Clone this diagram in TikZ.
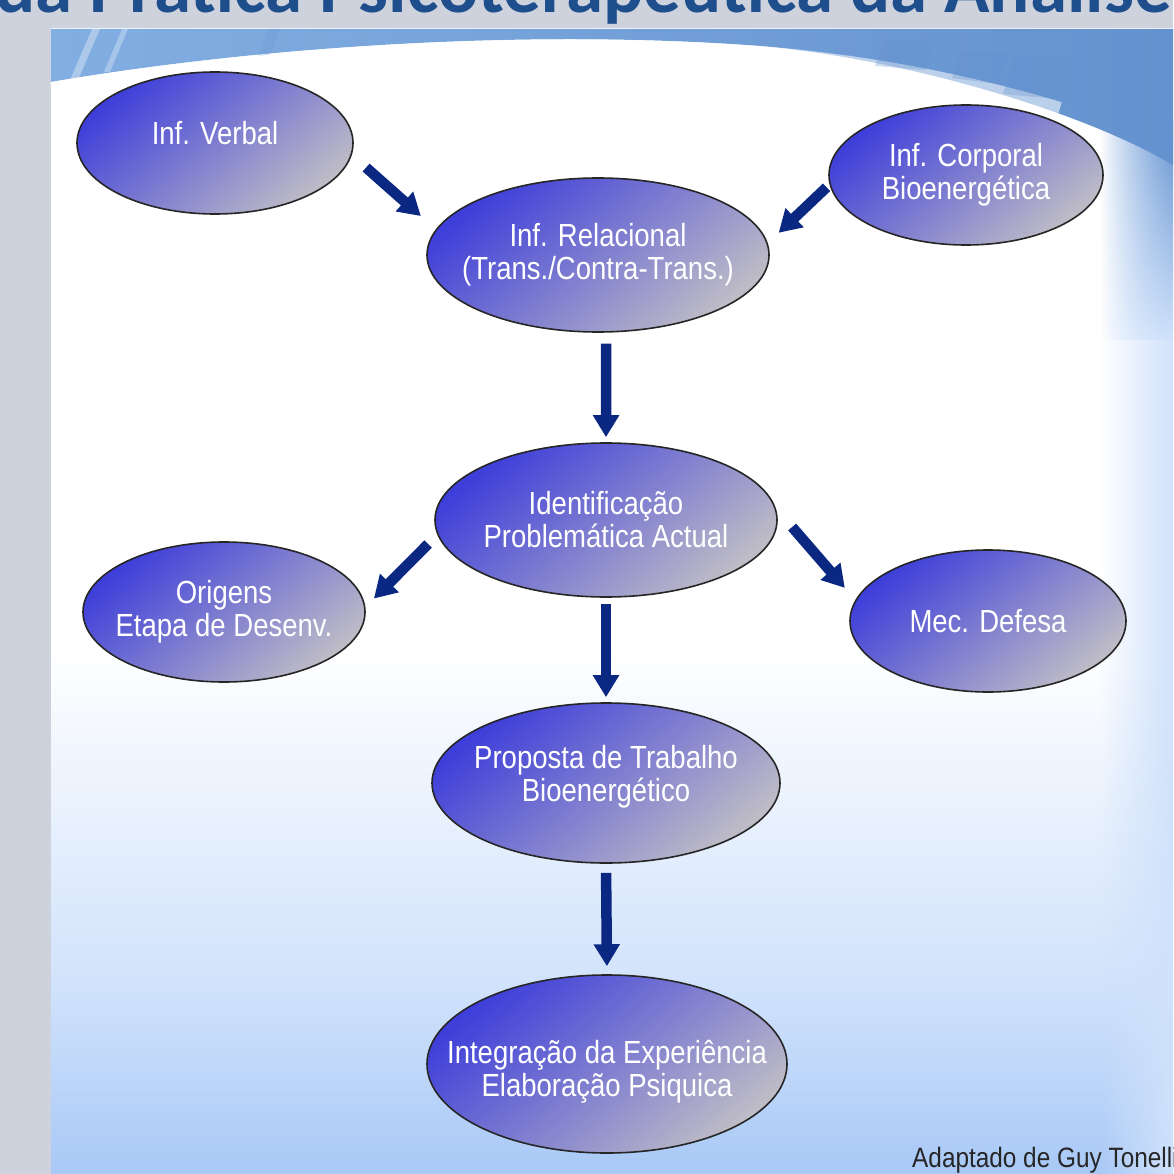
\documentclass[tikz,border=0pt]{standalone}
\usepackage{fontspec}
\usepackage{xcolor}
\usepackage{tikz}
\usetikzlibrary{calc,arrows.meta,shapes.geometric,fadings}

\newfontfamily\bubblefont[FakeStretch=0.86]{Liberation Sans}
\newfontfamily\notefont[FakeStretch=0.87]{Liberation Sans}
\newfontfamily\titlefont{Carlito}

\definecolor{sidegray}{RGB}{206,210,221}
\definecolor{titleblue}{RGB}{31,78,140}
\definecolor{panelbot}{RGB}{168,200,246}
\definecolor{panelmid}{RGB}{208,226,251}
\definecolor{bandleft}{RGB}{130,174,226}
\definecolor{bandmid}{RGB}{200,225,248}
\definecolor{bandright}{RGB}{100,146,206}
\definecolor{elltop}{RGB}{62,62,218}
\definecolor{ellbot}{RGB}{190,188,198}
\definecolor{navy}{RGB}{10,40,130}

\pgfdeclareverticalshading{panelshade}{100bp}{color(0bp)=(panelbot); color(25bp)=(panelbot); color(33bp)=(panelmid); color(48bp)=(white); color(100bp)=(white)}
\tikzfading[name=fadeeast, left color=transparent!100, right color=transparent!0]

\begin{document}
\begin{tikzpicture}[x=1pt,y=-1pt,
    bubble/.style={ellipse,draw=black!85,line width=1.6pt,top color=elltop,bottom color=ellbot,shading angle=40,inner sep=0pt},
    bubbletext/.style={text=white,align=center,font=\bubblefont\fontsize{32}{33}\selectfont},
    flow/.style={navy,line width=10.5pt,-{Triangle[width=25pt,length=22pt]}}]
  \useasboundingbox (0,0) rectangle (1173,1174);
  \clip (0,0) rectangle (1173,1174);

  % background
  \fill[sidegray] (0,0) rectangle (1173,1174);
  \shade[shading=panelshade] (51,29) rectangle (1173,1174);
  \fill[panelmid,path fading=fadeeast] (1100,120) rectangle (1173,1174);
  \shade[top color=bandright,bottom color=panelmid,path fading=fadeeast] (1100,120) rectangle (1173,340);
  \shade[left color=bandleft,middle color=bandmid,right color=bandright]
    (51,29) -- (51,82) .. controls (250,48) and (520,28) .. (760,46)
    .. controls (900,58) and (1080,110) .. (1173,165) -- (1173,29) -- cycle;
  \draw[white,line width=12pt,opacity=.55]
    (51,88) .. controls (250,54) and (520,34) .. (760,52)
    .. controls (860,60) and (960,78) .. (1060,108);
  \fill[white,opacity=.35] (92,29) -- (100,29) -- (78,80) -- (70,80) -- cycle;
  \fill[white,opacity=.3] (122,29) -- (128,29) -- (110,72) -- (104,72) -- cycle;
  \fill[bandright,opacity=.2] (268,29) -- (280,29) -- (270,55) -- (258,56) -- cycle;
  \fill[bandright,opacity=.3] (885,40) -- (935,42) -- (925,70) -- (875,66) -- cycle;
  \fill[bandright,opacity=.3] (962,50) -- (1008,54) -- (998,84) -- (952,78) -- cycle;
  \fill[bandright,opacity=.3] (1015,56) -- (1080,64) -- (1068,100) -- (1003,94) -- cycle;

  \node[font=\titlefont\bfseries\fontsize{75}{80}\selectfont,text=titleblue,anchor=base west,inner sep=0pt]
    (title) at (-5,13) {da Prática Psicoterapêutica da Análise};

  % bubbles
  \node[bubble,minimum width=276pt,minimum height=142pt,label={[bubbletext,yshift=10pt]center:Inf. Verbal}] (verbal) at (215,143) {};
  \node[bubble,minimum width=274pt,minimum height=140pt,label={[bubbletext]center:Inf. Corporal\\Bioenergética}] (corporal) at (966,175) {};
  \node[bubble,minimum width=342pt,minimum height=154pt,label={[bubbletext]center:Inf. Relacional\\(Trans./Contra-Trans.)}] (relacional) at (598,255) {};
  \node[bubble,minimum width=342pt,minimum height=154pt,label={[bubbletext]center:Identificação\\Problemática Actual}] (ident) at (606,520) {};
  \node[bubble,minimum width=282pt,minimum height=140pt,label={[bubbletext]center:Origens\\Etapa de Desenv.}] (origens) at (224,612) {};
  \node[bubble,minimum width=276pt,minimum height=142pt,label={[bubbletext]center:Mec. Defesa}] (mec) at (988,621) {};
  \node[bubble,minimum width=348pt,minimum height=160pt,label={[bubbletext,yshift=6pt]center:Proposta de Trabalho\\Bioenergético}] (proposta) at (606,783) {};
  \node[bubble,minimum width=360pt,minimum height=178pt,label={[bubbletext,yshift=-8pt]center:Integração da Experiência\\Elaboração Psiquica}] (integ) at (607,1064) {};

  % arrows
  \foreach \a/\b/\s/\t in {verbal.-5/relacional.171/19pt/20pt, corporal.184/relacional.4/4pt/15pt,
      relacional.-84/ident.north/11pt/5pt, ident.185/origens.2/13pt/12pt, ident.4/mec.171/25pt/16pt,
      ident.south/proposta.north/6pt/5pt, proposta.south/integ.north/9pt/8pt}
    {\draw[flow,shorten <=\s,shorten >=\t] (\a) -- (\b);}

  \node[font=\notefont\fontsize{28}{29}\selectfont,text=black!85,anchor=base west,inner sep=0pt]
    (credit) at (912,1167) {Adaptado de Guy Tonelli};
\end{tikzpicture}
\end{document}
